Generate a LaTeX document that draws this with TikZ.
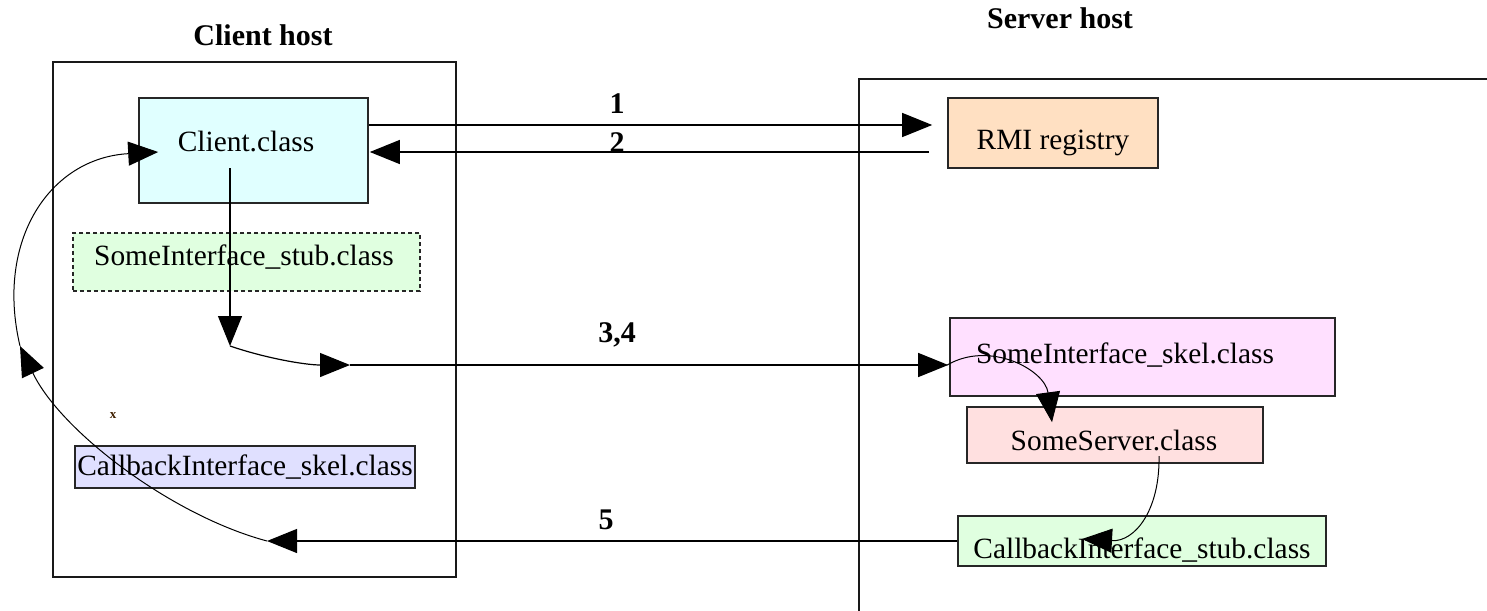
\documentclass[tikz,border=0pt]{standalone}
\usepackage{fontspec}
\setmainfont{Liberation Serif}
\usetikzlibrary{arrows.meta,calc}
\definecolor{cyanfill}{HTML}{E0FFFF}
\definecolor{greenfill}{HTML}{E0FFE0}
\definecolor{lavfill}{HTML}{E0E0FF}
\definecolor{peachfill}{HTML}{FFE0C2}
\definecolor{pinkfill}{HTML}{FFE0FF}
\definecolor{rosefill}{HTML}{FFE0E0}
\begin{document}
\begin{tikzpicture}[x=0.5pt,y=-0.5pt,
  box/.style={draw=black!85,line width=0.8pt,inner sep=0pt},
  host/.style={draw=black!90,line width=0.8pt,inner sep=0pt},
  txt/.style={inner sep=0pt,font=\fontsize{14.7}{17}\selectfont},
  title/.style={inner sep=0pt,font=\fontsize{15}{18}\selectfont\bfseries},
  num/.style={inner sep=0pt,font=\fontsize{15}{18}\selectfont\bfseries},
  arr/.style={draw=black,line width=0.6pt,-{Triangle[length=15pt,width=12pt]}}]
\useasboundingbox (0,0) rectangle (1487,610);
\fill[white] (0,0) rectangle (1487,610);

% host containers
\node[host,minimum width=201.5pt,minimum height=257.5pt] (chost) at (254.5,319.5) {};
\node[host,minimum width=370.5pt,minimum height=310.5pt] (shost) at (1229.5,389.5) {};
\node[title] (chostlbl) at (263,35) {Client host};
\node[title] (shostlbl) at (1060,18) {Server host};

% client side classes
\node[box,fill=cyanfill,minimum width=114.5pt,minimum height=52.5pt] (client) at (253.5,150.5) {};
\node[txt] (clienttxt) at (246,142) {Client.class};
\node[box,dashed,dash pattern=on 2pt off 1.5pt,fill=greenfill,minimum width=173.5pt,minimum height=29pt] (stub) at (246.5,262) {};
\node[txt] (stubtxt) at (244,257) {SomeInterface\_stub.class};
\node[box,fill=lavfill,minimum width=170pt,minimum height=21pt] (cskel) at (245,467) {};
\node[txt] (cskeltxt) at (245,467) {CallbackInterface\_skel.class};
\node[inner sep=0pt,font=\fontsize{6.5}{7}\selectfont\bfseries,text=black!75!orange] (xmark) at (113,416) {x};

% server side classes
\node[box,fill=peachfill,minimum width=105pt,minimum height=35pt] (reg) at (1053,133) {};
\node[txt] (regtxt) at (1053,143) {RMI registry};
\node[box,fill=pinkfill,minimum width=192.5pt,minimum height=39pt] (skel) at (1142.5,357) {};
\node[txt] (skeltxt) at (1125,355) {SomeInterface\_skel.class};
\node[box,fill=rosefill,minimum width=148pt,minimum height=28pt] (server) at (1115,435) {};
\node[txt] (servertxt) at (1114,441) {SomeServer.class};
\node[box,fill=greenfill,minimum width=184pt,minimum height=25pt] (cstub) at (1142,541) {};
\node[txt] (cstubtxt) at (1142,550) {CallbackInterface\_stub.class};

% junction points of the call path
\coordinate (j1) at (230,346);
\coordinate (j2) at (350,365);
\coordinate (j3) at (267,541);
\coordinate (j4) at (20,346);

% 1, 2: registry lookup
\draw[arr] ($(client.east)+(0,-25.5)$) -- ($(reg.west)+(-15,-8)$);
\draw[arr] ($(reg.west)+(-18,19)$) -- ($(client.east)+(1,1.5)$);
\node[num] (n1) at (617,104) {1};
\node[num] (n2) at (617,143) {2};

% 3,4: remote call through the stub to the skeleton
\draw[arr] ($(client.center)+(-23.5,17.5)$) -- (j1);
\draw[arr] (j1) .. controls (265,358) and (305,365) .. (j2);
\draw[arr] (j2) -- ($(skel.west)+(-1,8)$);
\node[num] (n34) at (617,335) {3,4};
\draw[arr,line width=0.5pt] ($(skel.west)+(-2,8)$) .. controls (990,340) and (1045,370) .. ($(server.north)+(-63,16)$);
\draw[arr,line width=0.5pt] ($(server.center)+(44,21)$) .. controls (1160,510) and (1135,542) .. ($(cstub.center)+(-60,-2)$);

% 5: callback to the client
\draw[arr] (cstub.west) -- (j3);
\node[num] (n5) at (606,520) {5};
\draw[arr,line width=0.5pt] (j3) .. controls (170,515) and (60,430) .. (j4);
\draw[arr,line width=0.5pt] (j4) .. controls (-5,240) and (50,158) .. ($(client.west)+(20,1.5)$);
\end{tikzpicture}
\end{document}
